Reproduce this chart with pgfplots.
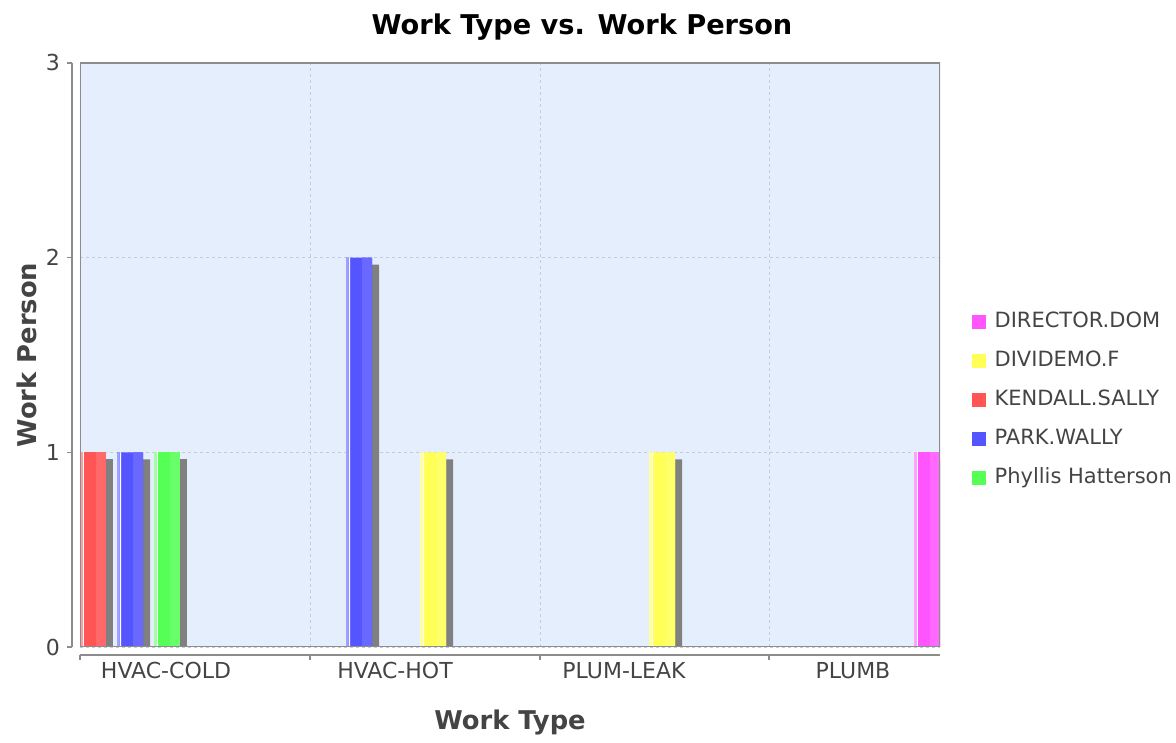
\documentclass[border=0pt]{standalone}
\usepackage{pgfplots}
\pgfplotsset{compat=1.18}
\usepackage{pgfplotstable}
\usepackage{fontspec}
\setmainfont{DejaVu Sans}
\definecolor{cRed}{RGB}{255,85,85}
\definecolor{cBlue}{RGB}{85,85,255}
\definecolor{cGreen}{RGB}{85,255,85}
\definecolor{cYellow}{RGB}{255,255,85}
\definecolor{cMag}{RGB}{255,85,255}
\definecolor{bgc}{RGB}{229,238,253}
\definecolor{gridc}{RGB}{196,204,218}
\definecolor{shadowc}{RGB}{128,128,128}
\definecolor{labelc}{RGB}{68,68,68}
\definecolor{framec}{RGB}{140,140,140}

\pgfplotstableread{
x y
927 1
}\tDirector
\pgfplotstableread{
x y
433 1
662 1
}\tDividemo
\pgfplotstableread{
x y
93 1
}\tKendall
\pgfplotstableread{
x y
130 1
359 2
}\tPark
\pgfplotstableread{
x y
167 1
}\tPhyllis

\newcommand\drawseries[2]{%
  \addplot[forget plot, ybar, bar shift=0pt, bar width=26, fill=shadowc, draw=none]
    table[x expr=\thisrow{x}+7, y expr=\thisrow{y}-0.036] {#1};
  \addplot[forget plot, ybar, bar shift=0pt, bar width=26, fill=#2, draw=none]
    table {#1};
  \addplot[forget plot, ybar, bar shift=0pt, bar width=10, fill=#2!88!white, draw=none]
    table[x expr=\thisrow{x}+8] {#1};
  \addplot[forget plot, ybar, bar shift=0pt, bar width=2.5, fill=#2!55!white, draw=none]
    table[x expr=\thisrow{x}-11.75] {#1};
  \addplot[forget plot, ybar, bar shift=0pt, bar width=1.2, fill=white, draw=none]
    table[x expr=\thisrow{x}-9.6] {#1};
}

\begin{document}
\begin{tikzpicture}
\useasboundingbox (0,0) rectangle (588pt,371.5pt);
\begin{axis}[
  at={(40pt,48pt)}, anchor=south west,
  scale only axis, width=430pt, height=292pt,
  xmin=80, xmax=940, ymin=0, ymax=3,
  axis background/.style={fill=bgc},
  separate axis lines,
  axis x line*=bottom, axis y line*=left,
  axis x line shift=4pt, axis y line shift=4pt,
  axis line style={framec, line width=0.6pt},
  every tick/.style={framec, line width=0.6pt},
  tick align=outside, major tick length=2.5pt,
  xtick={80,310,540,769}, xticklabels={},
  ytick={0,1,2,3},
  extra x ticks={166,395,624,853},
  extra x tick labels={HVAC-COLD,HVAC-HOT,PLUM-LEAK,PLUMB},
  extra x tick style={grid=none, major tick length=0pt},
  grid=major,
  grid style={gridc, line width=0.4pt, dash pattern=on 1.5pt off 1.5pt},
  ticklabel style={font=\fontsize{11}{13}\selectfont, text=labelc},
  /pgf/number format/assume math mode=true,
  xlabel={Work Type}, ylabel={Work Person},
  xlabel style={at={(axis description cs:0.5,-0.13)}, anchor=center, font=\bfseries\fontsize{12.9}{15}\selectfont, text=labelc},
  ylabel style={at={(axis description cs:-0.0616,0.5)}, anchor=center, font=\bfseries\fontsize{12.9}{15}\selectfont, text=labelc},
  legend image code/.code={\fill[#1, draw=none] (0pt,-3.3pt) rectangle (6.6pt,3.3pt);},
  legend cell align=left,
  legend style={at={(rel axis cs:1.0372,0.4229)}, anchor=west, draw=none, fill=none,
    inner sep=0pt, row sep=7pt, font=\fontsize{10.5}{12}\selectfont, text=labelc,
    nodes={inner sep=1.5pt, text height=7.5pt, text depth=2pt},
    /tikz/every odd column/.append style={column sep=3pt}},
]
\drawseries{\tKendall}{cRed}
\drawseries{\tPark}{cBlue}
\drawseries{\tPhyllis}{cGreen}
\drawseries{\tDividemo}{cYellow}
\drawseries{\tDirector}{cMag}
\draw[framec, line width=0.6pt] (rel axis cs:0,0) rectangle (rel axis cs:1,1);
\addlegendimage{fill=cMag}
\addlegendentry{DIRECTOR.DOM}
\addlegendimage{fill=cYellow}
\addlegendentry{DIVIDEMO.F}
\addlegendimage{fill=cRed}
\addlegendentry{KENDALL.SALLY}
\addlegendimage{fill=cBlue}
\addlegendentry{PARK.WALLY}
\addlegendimage{fill=cGreen}
\addlegendentry{Phyllis Hatterson}
\end{axis}
\node[font=\bfseries\fontsize{13.6}{16}\selectfont] at (291pt,358pt) {Work Type vs. Work Person};
\end{tikzpicture}
\end{document}
